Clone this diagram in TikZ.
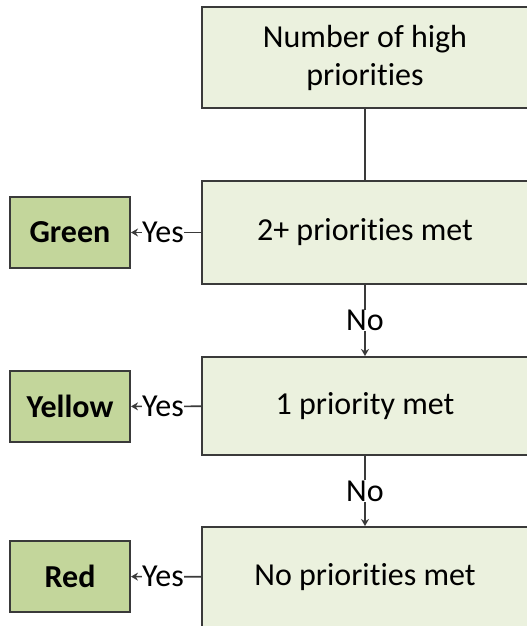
\documentclass[tikz,border=0pt]{standalone}
\usepackage{fontspec}
\setmainfont[Ligatures=NoCommon]{Carlito}
\usetikzlibrary{arrows.meta}
\definecolor{paleGreen}{HTML}{EBF1DE}
\definecolor{oliveGreen}{HTML}{C3D69B}
\definecolor{edgeGray}{HTML}{3A3A3A}
\tikzset{
  x=1pt, y=-1pt,
  stepbox/.style={draw=edgeGray, line width=2pt, fill=paleGreen, inner sep=0pt,
    minimum width=326pt, minimum height=100pt, align=center,
    font=\fontsize{32}{38}\selectfont},
  resultbox/.style={draw=edgeGray, line width=2pt, fill=oliveGreen, inner sep=0pt,
    minimum width=120pt, minimum height=71pt,
    font=\fontsize{32}{38}\selectfont\bfseries},
  link/.style={draw=edgeGray, line width=1.6pt},
  linkarrow/.style={link, -{Stealth[length=7pt,width=8pt]}},
  tag/.style={fill=white, inner sep=0.5pt, font=\fontsize{32}{38}\selectfont}
}
\begin{document}
\begin{tikzpicture}
\useasboundingbox (0,0) rectangle (527,626);
\fill[white] (0,0) rectangle (527,626);

% decision column
\node[stepbox, minimum height=101pt] (count) at (365,57.5) {Number of high\\priorities};
\node[stepbox, minimum height=103pt] (two)  at (365,232.5) {2+ priorities met};
\node[stepbox, minimum height=98pt]  (one)  at (365,406) {1 priority met};
\node[stepbox, minimum height=100pt] (none) at (365,577) {No priorities met};

% outcomes
\node[resultbox] (green)  at (70,232.5) {Green};
\node[resultbox] (yellow) at (70,406.5) {Yellow};
\node[resultbox] (red)    at (70,576.5) {Red};

% flow
\draw[link] (count) -- (two);
\draw[linkarrow] (two) -- node[tag] {No} (one);
\draw[linkarrow] (one) -- node[tag] {No} (none);
\draw[linkarrow] (two) -- node[tag, xshift=-3pt] {Yes} (green);
\draw[linkarrow] (one) -- node[tag, xshift=-3pt] {Yes} (yellow);
\draw[linkarrow] (none) -- node[tag, xshift=-3pt] {Yes} (red);
\end{tikzpicture}
\end{document}
